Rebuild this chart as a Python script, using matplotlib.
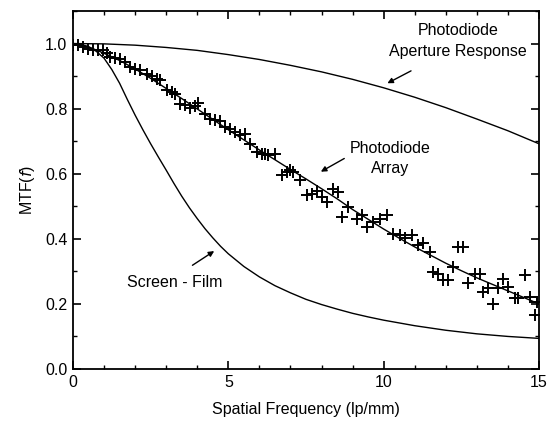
import matplotlib
matplotlib.use("Agg")
import matplotlib.pyplot as plt
from matplotlib.ticker import MultipleLocator

plt.rcParams['font.family'] = ['Liberation Sans', 'DejaVu Sans']

# Photodiode aperture response curve
ap_x = [0, 1, 2, 3, 4, 5, 6, 7, 8, 9, 10, 11, 12, 13, 14, 15]
ap_y = [1.000, 0.999, 0.995, 0.988, 0.979, 0.966, 0.951, 0.933, 0.913, 0.890,
        0.864, 0.835, 0.803, 0.768, 0.732, 0.692]

# Screen-film curve
sf_x = [0, 0.25, 0.5, 0.75, 1.0, 1.25, 1.5, 1.75, 2.0, 2.25, 2.5, 2.75, 3.0,
        3.25, 3.5, 3.75, 4.0, 4.25, 4.5, 4.75, 5.0, 5.5, 6.0, 6.5, 7.0, 7.5,
        8.0, 8.5, 9.0, 9.5, 10.0, 11.0, 12.0, 13.0, 14.0, 15.0]
sf_y = [1.0, 0.998, 0.99, 0.976, 0.955, 0.92, 0.878, 0.828, 0.78, 0.735,
        0.692, 0.651, 0.611, 0.570, 0.531, 0.495, 0.462, 0.431, 0.403, 0.377,
        0.354, 0.315, 0.283, 0.256, 0.234, 0.214, 0.198, 0.184, 0.171, 0.160,
        0.150, 0.133, 0.119, 0.108, 0.100, 0.094]

# Photodiode array fitted curve
fit_x = [0, 0.5, 1, 1.5, 2, 2.5, 3, 3.5, 4, 4.5, 5, 5.5, 6, 6.5, 7, 7.5, 8,
         8.5, 9, 9.5, 10, 10.5, 11, 11.5, 12, 12.5, 13, 13.5, 14, 14.5, 15]
fit_y = [1.0, 0.99, 0.97, 0.948, 0.922, 0.893, 0.862, 0.831, 0.799, 0.767,
         0.735, 0.704, 0.673, 0.643, 0.613, 0.584, 0.554, 0.523, 0.49, 0.46,
         0.43, 0.402, 0.375, 0.35, 0.325, 0.302, 0.28, 0.26, 0.24, 0.22, 0.20]

# Measured photodiode array MTF points
meas_x = [0.00, 0.17, 0.33, 0.49, 0.65, 0.82, 0.98, 1.08, 1.19, 1.35, 1.51, 1.67,
          1.83, 2.00, 2.16, 2.37, 2.53, 2.69, 2.80, 3.02, 3.18, 3.28, 3.44,
          3.60, 3.77, 3.93, 4.03, 4.25, 4.41, 4.57, 4.73, 4.89, 5.05, 5.21,
          5.38, 5.54, 5.70, 5.91, 6.07, 6.18, 6.29, 6.50, 6.72, 6.88, 6.98,
          7.09, 7.31, 7.52, 7.68, 7.84, 8.00, 8.17, 8.38, 8.54, 8.65, 8.86,
          9.13, 9.29, 9.45, 9.67, 9.88, 10.10, 10.31, 10.52, 10.69, 10.90,
          11.11, 11.27, 11.49, 11.60, 11.76, 11.92, 12.08, 12.24, 12.40, 12.56,
          12.72, 12.94, 13.10, 13.21, 13.37, 13.53, 13.69, 13.85, 14.01, 14.23,
          14.33, 14.55, 14.71, 14.87, 14.92]
meas_y = [0.997, 0.994, 0.989, 0.984, 0.981, 0.979, 0.979, 0.970, 0.958, 0.956,
          0.953, 0.943, 0.929, 0.922, 0.919, 0.905, 0.899, 0.892, 0.887, 0.858,
          0.851, 0.844, 0.815, 0.810, 0.803, 0.807, 0.817, 0.784, 0.769, 0.764,
          0.762, 0.743, 0.738, 0.728, 0.718, 0.723, 0.692, 0.667, 0.662, 0.662,
          0.656, 0.660, 0.595, 0.605, 0.610, 0.605, 0.580, 0.534, 0.539, 0.547,
          0.529, 0.513, 0.554, 0.544, 0.467, 0.498, 0.462, 0.472, 0.437, 0.452,
          0.462, 0.472, 0.416, 0.411, 0.401, 0.411, 0.380, 0.386, 0.360, 0.298,
          0.293, 0.273, 0.273, 0.314, 0.375, 0.375, 0.263, 0.293, 0.293, 0.237,
          0.248, 0.201, 0.248, 0.278, 0.252, 0.217, 0.217, 0.288, 0.222, 0.166,
          0.206]

fig = plt.figure(figsize=(5.5, 4.23), dpi=100)
ax = fig.add_axes([0.1327, 0.1277, 0.8473, 0.8463])

ax.plot(ap_x, ap_y, color='black', lw=1.0)
ax.plot(sf_x, sf_y, color='black', lw=1.0)
ax.plot(fit_x, fit_y, color='black', lw=1.0)
ax.plot(meas_x, meas_y, linestyle='none', marker='+', color='black',
        markersize=8, markeredgewidth=1.4)

ax.set_xlim(0, 15)
ax.set_ylim(0, 1.1)
ax.xaxis.set_major_locator(MultipleLocator(5))
ax.xaxis.set_minor_locator(MultipleLocator(1))
ax.yaxis.set_minor_locator(MultipleLocator(0.1))
ax.set_yticks([0.0, 0.2, 0.4, 0.6, 0.8, 1.0])
ax.set_yticklabels(['0.0', '0.2', '0.4', '0.6', '0.8', '1.0'])
ax.tick_params(which='both', direction='in', top=True, right=True, labelsize=11.5)
ax.tick_params(which='major', length=6, width=1.2, pad=4)
ax.tick_params(which='minor', length=3, width=1.0)
for s in ax.spines.values():
    s.set_linewidth(1.3)

ax.set_xlabel('Spatial Frequency (lp/mm)', fontsize=11.5, labelpad=9)
ax.set_ylabel('MTF($\\mathit{f}$)', fontsize=11.5, labelpad=6)

ax.text(12.4, 1.008, 'Photodiode\nAperture Response', ha='center', va='center',
        fontsize=11.5, linespacing=1.45)
ax.annotate('', xy=(10.04, 0.874), xytext=(10.96, 0.920),
            arrowprops=dict(arrowstyle='-|>', color='black', lw=1.0,
                            mutation_scale=8))
ax.text(10.2, 0.647, 'Photodiode\nArray', ha='center', va='center',
        fontsize=11.5, linespacing=1.45)
ax.annotate('', xy=(7.90, 0.602), xytext=(8.81, 0.651),
            arrowprops=dict(arrowstyle='-|>', color='black', lw=1.0,
                            mutation_scale=8))
ax.text(3.28, 0.266, 'Screen - Film', ha='center', va='center', fontsize=11.5)
ax.annotate('', xy=(4.62, 0.367), xytext=(3.77, 0.314),
            arrowprops=dict(arrowstyle='-|>', color='black', lw=1.0,
                            mutation_scale=8))

fig.savefig('out.png', dpi=100)
